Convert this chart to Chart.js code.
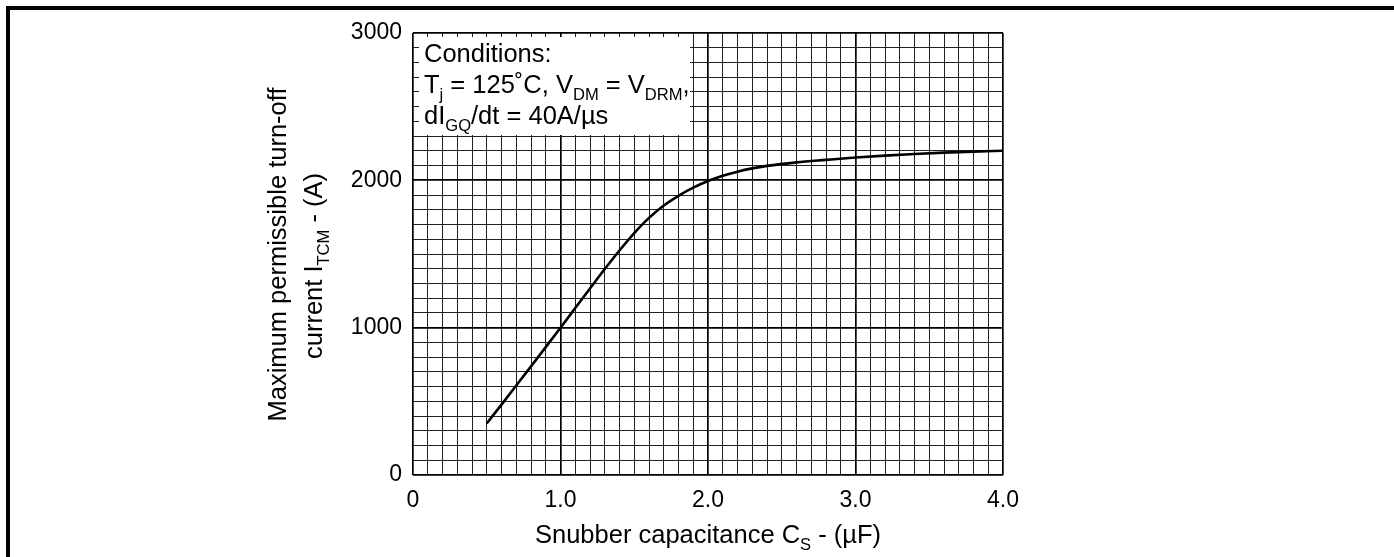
<!DOCTYPE html>
<html>
<head>
<meta charset="utf-8">
<script src="https://cdn.jsdelivr.net/npm/chart.js@4/dist/chart.umd.min.js"></script>
<style>
    body { margin: 0; background: #fff; }
    canvas { display: block; }
</style>
</head>
<body>
<canvas id="grafico" width="1394" height="557"></canvas>
<script>
// snubber capacitance (uF) vs max turn-off current (A)
const capacitancia = [0.5, 0.6, 0.7, 0.8, 0.9, 1.0, 1.1, 1.2, 1.3, 1.4, 1.5, 1.6, 1.7, 1.8, 1.9, 2.0, 2.1, 2.2, 2.3, 2.4, 2.6, 2.8, 3.0, 3.2, 3.4, 3.6, 3.8, 4.0]
const corrente = [350, 478, 607, 737, 868, 1000, 1133, 1266, 1398, 1524, 1642, 1745, 1829, 1895, 1950, 1995, 2031, 2059, 2081, 2098, 2122, 2139, 2155, 2168, 2179, 2188, 2195, 2201]

const ticksX = [0, 1, 2, 3, 4]
const ticksY = [0, 1000, 2000, 3000]

const tituloX = [['Snubber capacitance C', ''], ['S', 'sub'], [' - (\u00b5F)', '']]
const tituloY1 = [['Maximum permissible turn-off', '']]
const tituloY2 = [['current I', ''], ['TCM', 'sub'], [' - (A)', '']]
const condicoes = [
    [['Conditions:', '']],
    [['T', ''], ['j', 'sub'], [' = 125\u02daC, V', ''], ['DM', 'sub'], [' = V', ''], ['DRM', 'sub'], [',', '']],
    [['dI', ''], ['GQ', 'sub'], ['/dt = 40A/\u00b5s', '']]
]

const fonte = '"Liberation Sans", Arial, sans-serif'
const tamTexto = 25.5
const tamTick = 23

function larguraRica(ctx, partes, tam) {
    let w = 0
    for (const [t, tipo] of partes) {
        ctx.font = (tipo === 'sub' ? tam * 0.65 : tam) + 'px ' + fonte
        w += ctx.measureText(t).width
    }
    return w
}

function textoRico(ctx, partes, x, y, tam, alinhar) {
    let w = larguraRica(ctx, partes, tam)
    let px = alinhar === 'center' ? x - w / 2 : x
    ctx.textAlign = 'left'
    ctx.textBaseline = 'alphabetic'
    ctx.fillStyle = '#000'
    for (const [t, tipo] of partes) {
        let sub = tipo === 'sub'
        ctx.font = (sub ? tam * 0.65 : tam) + 'px ' + fonte
        ctx.fillText(t, px, sub ? y + tam * 0.29 : y)
        px += ctx.measureText(t).width
    }
}

const extras = {
    id: 'extras',
    beforeDatasetsDraw(chart) {
        const ctx = chart.ctx
        const a = chart.chartArea
        ctx.save()
        // white box with the test conditions
        ctx.fillStyle = '#fff'
        ctx.fillRect(a.left + 6, a.top + 4, 271, 98)
        condicoes.forEach((linha, i) => {
            textoRico(ctx, linha, a.left + 11, a.top + 29 + i * 30.8, tamTexto, 'left')
        })
        ctx.restore()
    },
    afterDraw(chart) {
        const ctx = chart.ctx
        const a = chart.chartArea
        ctx.save()
        textoRico(ctx, tituloX, (a.left + a.right) / 2, 543, tamTexto, 'center')
        ctx.translate(286, 254.5)
        ctx.rotate(-Math.PI / 2)
        textoRico(ctx, tituloY1, 0, 0, tamTexto, 'center')
        textoRico(ctx, tituloY2, -11.5, 35.7, tamTexto, 'center')
        ctx.restore()
        // page frame
        ctx.save()
        ctx.strokeStyle = '#000'
        ctx.lineWidth = 4
        ctx.beginPath()
        ctx.moveTo(8, 557)
        ctx.lineTo(8, 8)
        ctx.lineTo(1394, 8)
        ctx.stroke()
        ctx.restore()
    }
}

function ehMaior(v, lista) {
    return lista.some(t => Math.abs(t - v) < 1e-6)
}

const pontos = capacitancia.map((c, i) => ({ x: c, y: corrente[i] }))

new Chart(document.getElementById('grafico'), {
    type: 'line',
    data: {
        datasets: [{
            data: pontos,
            borderColor: '#000',
            borderWidth: 2.6,
            pointRadius: 0,
            fill: false,
            cubicInterpolationMode: 'monotone'
        }]
    },
    options: {
        responsive: false,
        animation: false,
        layout: { padding: { left: 0, top: 33, right: 391, bottom: 0 } },
        plugins: {
            legend: { display: false },
            tooltip: { enabled: false }
        },
        scales: {
            x: {
                type: 'linear',
                min: 0,
                max: 4,
                afterFit: s => { s.height = 82 },
                ticks: {
                    stepSize: 0.1,
                    autoSkip: false,
                    maxRotation: 0,
                    padding: 12,
                    color: '#000',
                    font: { family: fonte, size: tamTick },
                    callback: v => ehMaior(v, ticksX) ? (Math.round(v) === 0 ? '0' : Math.round(v).toFixed(1)) : ''
                },
                grid: {
                    drawTicks: false,
                    color: c => ehMaior(c.tick.value, ticksX) ? '#000' : '#222',
                    lineWidth: c => ehMaior(c.tick.value, ticksX) ? 1.7 : 1
                },
                border: { display: false }
            },
            y: {
                min: 0,
                max: 3000,
                afterFit: s => { s.width = 413 },
                ticks: {
                    stepSize: 100,
                    autoSkip: false,
                    padding: 11,
                    color: '#000',
                    font: { family: fonte, size: tamTick },
                    callback: v => ehMaior(v, ticksY) ? String(v) : ''
                },
                grid: {
                    drawTicks: false,
                    color: c => ehMaior(c.tick.value, ticksY) ? '#000' : '#222',
                    lineWidth: c => ehMaior(c.tick.value, ticksY) ? 1.7 : 1
                },
                border: { display: false }
            }
        }
    },
    plugins: [extras]
})
</script>
</body>
</html>
